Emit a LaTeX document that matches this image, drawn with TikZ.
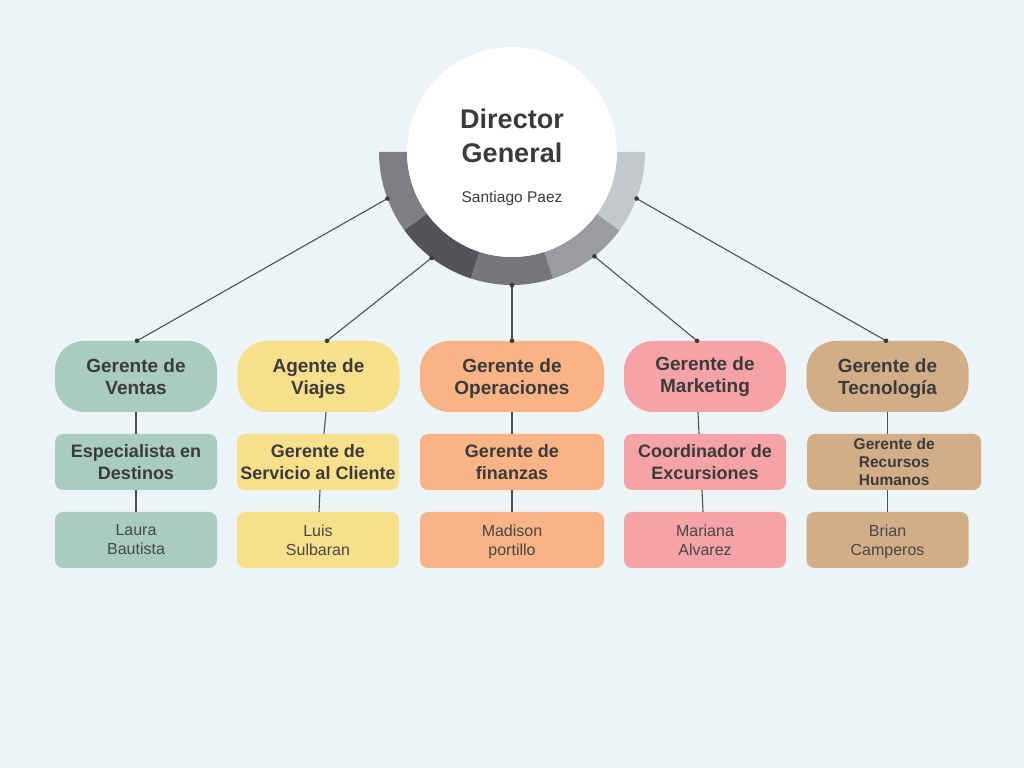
\documentclass[tikz,border=0pt]{standalone}
\usepackage{fontspec}
\setmainfont{Liberation Sans}
\usetikzlibrary{calc}
\definecolor{bg}{HTML}{EDF4F6}
\definecolor{sA}{HTML}{7F7E83}
\definecolor{sB}{HTML}{545358}
\definecolor{sC}{HTML}{77767B}
\definecolor{sD}{HTML}{9B9C9F}
\definecolor{sE}{HTML}{C4C8CB}
\definecolor{cGreen}{HTML}{A8CCBF}
\definecolor{cYellow}{HTML}{F8DF8B}
\definecolor{cOrange}{HTML}{F9B384}
\definecolor{cPink}{HTML}{F5A3A6}
\definecolor{cTan}{HTML}{D2AE88}
\definecolor{tdark}{HTML}{3B3B3B}
\definecolor{tname}{HTML}{474747}
\definecolor{lineC}{HTML}{505050}
\begin{document}
\begin{tikzpicture}[x=1pt,y=1pt,
  pillbox/.style={rectangle, rounded corners=29pt, minimum width=162pt, minimum height=71pt,
    inner sep=0pt, align=center, font=\fontsize{19}{22}\selectfont\bfseries, text=tdark},
  midbox/.style={rectangle, rounded corners=8pt, minimum width=162pt, minimum height=56pt,
    inner sep=0pt, align=center, font=\fontsize{18}{22}\selectfont\bfseries, text=tdark},
  namebox/.style={rectangle, rounded corners=8pt, minimum width=162pt, minimum height=56pt,
    inner sep=0pt, align=center, font=\fontsize{16}{19}\selectfont, text=tname},
  conn/.style={draw=lineC, line width=1.1pt},
  dotm/.style={fill=tdark}
]
\fill[bg] (0,0) rectangle (1024,768);
\useasboundingbox (0,0) rectangle (1024,768);

% ring
\coordinate (ctr) at (512,616);
\foreach \a/\c in {180/sA,216/sB,252/sC,288/sD,324/sE}{
  \fill[\c] ($(ctr)+(\a:133)$) arc[start angle=\a, delta angle=36, radius=133]
    -- ($(ctr)+(\a+36:105)$) arc[start angle=\a+36, delta angle=-36, radius=105] -- cycle;
}
\node[circle, fill=white, minimum size=210pt, inner sep=0pt] (dir) at (ctr) {};
\node[font=\fontsize{27}{34}\selectfont\bfseries, text=tdark, align=center] (dtitle) at (512,632) {Director\\General};
\node[font=\fontsize{15.5}{18}\selectfont, text=tdark, anchor=base] (dname) at (512,565) {Santiago Paez};

% ring connection points
\coordinate (d1) at ($(ctr)+(200.5:133)$);
\coordinate (d2) at ($(ctr)+(232.8:133)$);
\coordinate (d3) at ($(ctr)+(270:133)$);
\coordinate (d4) at ($(ctr)+(308.3:133)$);
\coordinate (d5) at ($(ctr)+(339.5:133)$);

% level 1
\node[pillbox, fill=cGreen] (p1) at (136,391.5) {Gerente de\\Ventas};
\node[pillbox, fill=cYellow] (p2) at (318.5,391.5) {Agente de\\\smash{Viajes}};
\node[pillbox, fill=cOrange, minimum width=184pt] (p3) at (512,391.5) {Gerente de\\\smash{Operaciones}};
\node[pillbox, fill=cPink] (p4) at (705,391.5) {Gerente de\\Marketing};
\node[pillbox, fill=cTan] (p5) at (887.5,391.5) {Gerente de\\\smash{Tecnología}};

% level 2
\node[midbox, fill=cGreen] (m1) at (136,306) {Especialista en\\Destinos};
\node[midbox, fill=cYellow] (m2) at (318,306) {Gerente de\\Servicio al Cliente};
\node[midbox, fill=cOrange, minimum width=184pt] (m3) at (512,306) {Gerente de\\finanzas};
\node[midbox, fill=cPink] (m4) at (705,306) {Coordinador de\\Excursiones};
\node[midbox, fill=cTan, minimum width=174pt, anchor=west, font=\fontsize{15.5}{18.3}\selectfont\bfseries] (m5) at (807,306) {Gerente de\\Recursos\\Humanos};

% level 3
\node[namebox, fill=cGreen] (n1) at (136,228) {Laura\\Bautista};
\node[namebox, fill=cYellow] (n2) at (318,228) {Luis\\Sulbaran};
\node[namebox, fill=cOrange, minimum width=184pt] (n3) at (512,228) {Madison\\\smash{portillo}};
\node[namebox, fill=cPink] (n4) at (705,228) {Mariana\\Alvarez};
\node[namebox, fill=cTan] (n5) at (887.5,228) {Brian\\\smash{Camperos}};

% pill top connection points
\coordinate (t1) at ($(p1.north)+(1,0)$);
\coordinate (t2) at ($(p2.north)+(8.5,0)$);
\coordinate (t3) at (p3.north);
\coordinate (t4) at ($(p4.north)+(-8,0)$);
\coordinate (t5) at ($(p5.north)+(-1.5,0)$);

\foreach \i in {1,...,5}{
  \draw[conn] (d\i) -- (t\i);
  \fill[dotm] (d\i) circle (2.3);
  \fill[dotm] (t\i) circle (2.3);
}

% vertical connectors
\draw[conn] (p1.south) -- (m1.north);
\draw[conn] (m1.south) -- (n1.north);
\draw[conn] ($(p2.south)+(7.5,0)$) -- ($(m2.north)+(6,0)$);
\draw[conn] ($(m2.south)+(2,0)$) -- ($(n2.north)+(1,0)$);
\draw[conn] (p3.south) -- (m3.north);
\draw[conn] (m3.south) -- (n3.north);
\draw[conn] ($(p4.south)+(-7,0)$) -- ($(m4.north)+(-6,0)$);
\draw[conn] ($(m4.south)+(-3,0)$) -- ($(n4.north)+(-2,0)$);
\draw[conn] (p5.south) -- (p5.south |- m5.north);
\draw[conn] (m5.south -| n5.north) -- (n5.north);
\end{tikzpicture}
\end{document}
